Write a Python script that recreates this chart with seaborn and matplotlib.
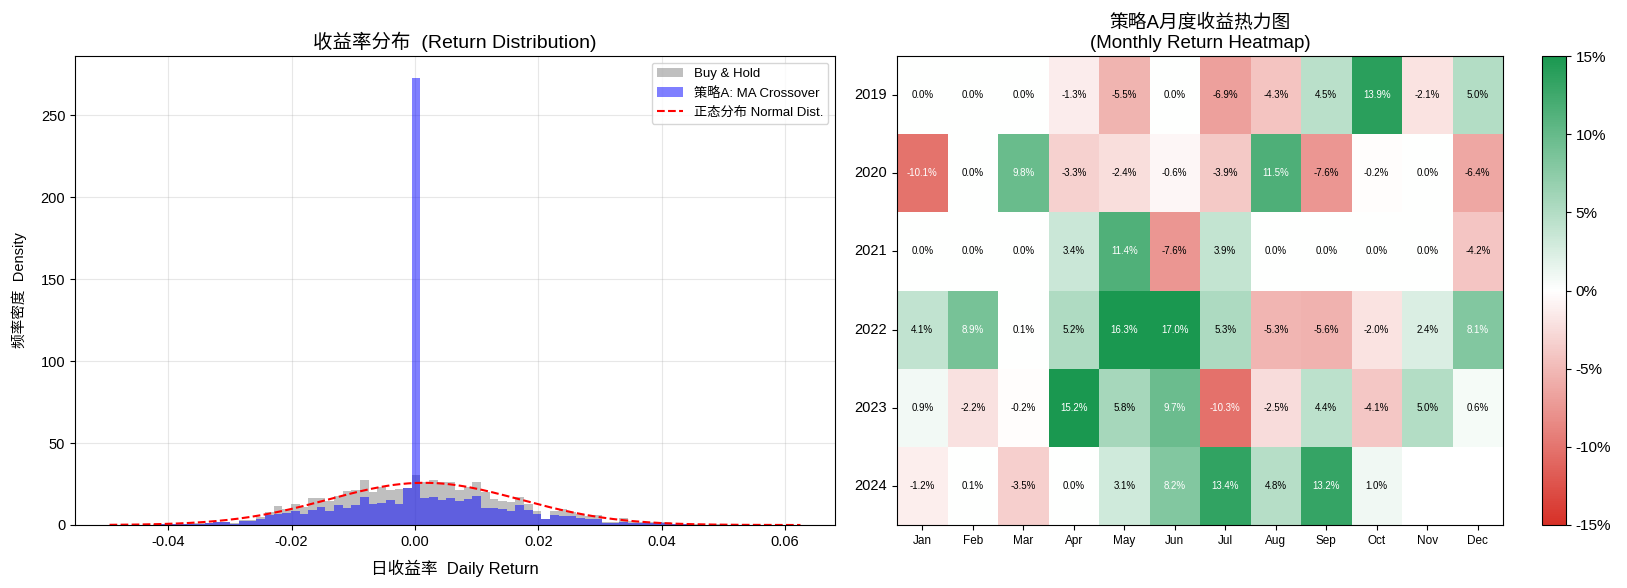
import numpy as np
import pandas as pd
import matplotlib
matplotlib.use("Agg")
import matplotlib.pyplot as plt
import seaborn as sns
from matplotlib.colors import LinearSegmentedColormap
from matplotlib.patches import Patch
from matplotlib.lines import Line2D

plt.rcParams['font.family'] = ['Liberation Sans', 'Noto Sans CJK SC', 'DejaVu Sans']
plt.rcParams['axes.unicode_minus'] = False

# ---------------- data: return histogram (density per bin) ----------------
bin_start = -0.0495
bin_width = 0.0014
buyhold_density = [
    0.2, 0.2, 0.0, 0.2, 0.2, 0.4, 0.8, 0.8, 0.8, 1.0, 1.2, 1.4, 2.0, 2.0, 1.2,
    3.2, 3.2, 4.7, 7.7, 11.8, 10.0, 12.8, 10.8, 16.5, 16.5, 14.8, 17.9, 21.0,
    21.5, 27.6, 20.0, 23.0, 21.5, 22.0, 22.4,
    30.2,
    26.0, 27.6, 26.4, 26.0, 21.1, 23.2, 26.0, 20.1, 15.8, 14.8, 14.2, 16.9,
    13.0, 8.7, 3.7, 8.7, 9.8, 7.7, 6.7, 5.3, 6.1, 2.0, 1.6, 4.3, 2.6, 2.0, 2.0,
    1.6, 1.6, 0.8, 0.6, 0.4, 0.4, 0.2, 0.4, 0.2, 0.2, 0.0, 0.2, 0.0, 0.2, 0.0,
    0.0, 0.2,
]
strategy_density = [
    0.0, 0.0, 0.0, 0.0, 0.1, 0.2, 0.4, 0.4, 0.4, 0.6, 0.8, 1.2, 1.6, 2.0, 0.8,
    2.6, 2.6, 3.7, 6.0, 7.0, 7.3, 8.7, 6.7, 9.0, 10.8, 8.7, 12.4, 10.4, 12.2,
    16.9, 12.8, 13.4, 15.4, 12.8, 22.4,
    272.5,
    16.3, 17.3, 15.2, 16.3, 14.8, 15.6, 17.5, 10.4, 10.2, 9.8, 8.7, 12.4, 9.3,
    6.7, 3.7, 6.1, 5.7, 5.7, 4.3, 3.7, 3.7, 1.2, 1.4, 2.0, 1.2, 1.2, 1.2, 1.6,
    1.2, 0.4, 0.4, 0.2, 0.2, 0.2, 0.2, 0.0, 0.0, 0.0, 0.1, 0.0, 0.0, 0.0, 0.0,
    0.1,
]
normal_mu = 0.0015
normal_sigma = 0.0155

# ---------------- data: monthly heatmap (%) ----------------
months = ['Jan', 'Feb', 'Mar', 'Apr', 'May', 'Jun', 'Jul', 'Aug', 'Sep', 'Oct', 'Nov', 'Dec']
years = ['2019', '2020', '2021', '2022', '2023', '2024']
ret_2019 = [0.0, 0.0, 0.0, -1.3, -5.5, 0.0, -6.9, -4.3, 4.5, 13.9, -2.1, 5.0]
ret_2020 = [-10.1, 0.0, 9.8, -3.3, -2.4, -0.6, -3.9, 11.5, -7.6, -0.2, 0.0, -6.4]
ret_2021 = [0.0, 0.0, 0.0, 3.4, 11.4, -7.6, 3.9, 0.0, 0.0, 0.0, 0.0, -4.2]
ret_2022 = [4.1, 8.9, 0.1, 5.2, 16.3, 17.0, 5.3, -5.3, -5.6, -2.0, 2.4, 8.1]
ret_2023 = [0.9, -2.2, -0.2, 15.2, 5.8, 9.7, -10.3, -2.5, 4.4, -4.1, 5.0, 0.6]
ret_2024 = [-1.2, 0.1, -3.5, 0.0, 3.1, 8.2, 13.4, 4.8, 13.2, 1.0, np.nan, np.nan]

n_bins = len(buyhold_density)
assert n_bins == len(strategy_density) == 80
edges = [bin_start + bin_width * i for i in range(n_bins + 1)]
centers = [(edges[i] + edges[i + 1]) / 2 for i in range(n_bins)]
hist_df = pd.DataFrame({'ret': centers, 'bh': buyhold_density, 'sa': strategy_density})

fig = plt.figure(figsize=(16.27, 5.88), dpi=100)
W, H = 1627, 588
ax1 = fig.add_axes([75 / W, 63 / H, 760 / W, 469 / H])
ax2 = fig.add_axes([897 / W, 63 / H, 606 / W, 469 / H])
cax = fig.add_axes([1542 / W, 63 / H, 24 / W, 469 / H])

# ---- left: histogram ----
sns.histplot(data=hist_df, x='ret', weights='bh', bins=edges, stat='count',
             color='gray', alpha=0.5, edgecolor='none', linewidth=0, ax=ax1)
sns.histplot(data=hist_df, x='ret', weights='sa', bins=edges, stat='count',
             color='blue', alpha=0.5, edgecolor='none', linewidth=0, ax=ax1)
xs = np.linspace(edges[0], edges[-1], 200)
pdf = np.exp(-0.5 * ((xs - normal_mu) / normal_sigma) ** 2) / (normal_sigma * np.sqrt(2 * np.pi))
sns.lineplot(x=xs, y=pdf, color='red', linestyle='--', linewidth=1.5, ax=ax1)

handles = [Patch(facecolor='gray', alpha=0.5, edgecolor='none'),
           Patch(facecolor='blue', alpha=0.5, edgecolor='none'),
           Line2D([0], [0], color='red', linestyle='--', linewidth=1.5)]
labels = ['Buy & Hold', '策略A: MA Crossover', '正态分布 Normal Dist.']
ax1.legend(handles, labels, loc='upper right', fontsize=9.5)
ax1.set_title('收益率分布  (Return Distribution)', fontsize=14)
ax1.set_xlabel('日收益率  Daily Return', fontsize=12, labelpad=8)
ax1.set_ylabel('频率密度  Density', fontsize=10.5, labelpad=10)
ax1.tick_params(labelsize=10.5)
ax1.grid(True, alpha=0.3)
ax1.set_axisbelow(True)

# ---- right: heatmap ----
df = pd.DataFrame([ret_2019, ret_2020, ret_2021, ret_2022, ret_2023, ret_2024],
                  index=years, columns=months)
cmap = LinearSegmentedColormap.from_list('rwg', ['#d73027', '#ffffff', '#1a9850'])
sns.heatmap(df, ax=ax2, cbar_ax=cax, cmap=cmap, vmin=-15, vmax=15, center=0,
            annot=True, fmt='.1f', annot_kws={'fontsize': 7})
vals = df.values
for t in ax2.texts:
    x, y = t.get_position()
    v = vals[int(y), int(x)]
    t.set_text(f'{v:.1f}%')
    t.set_color('white' if abs(v) > 8 else 'black')
for s in ax2.spines.values():
    s.set_visible(True)
    s.set_linewidth(0.8)
ax2.set_title('策略A月度收益热力图\n(Monthly Return Heatmap)', fontsize=13.5)
ax2.set_xlabel('')
ax2.set_ylabel('')
ax2.set_xticklabels(months, fontsize=8.5, rotation=0)
ax2.set_yticklabels(years, fontsize=10.5, rotation=0)
ax2.tick_params(axis='both', which='both', length=3.5)
cax.set_yticks([-15, -10, -5, 0, 5, 10, 15])
cax.set_yticklabels([f'{v}%' for v in [-15, -10, -5, 0, 5, 10, 15]], fontsize=11)
cb = ax2.collections[0].colorbar
cb.outline.set_linewidth(0.8)
cb.outline.set_visible(True)

fig.savefig('out.png', dpi=100)
